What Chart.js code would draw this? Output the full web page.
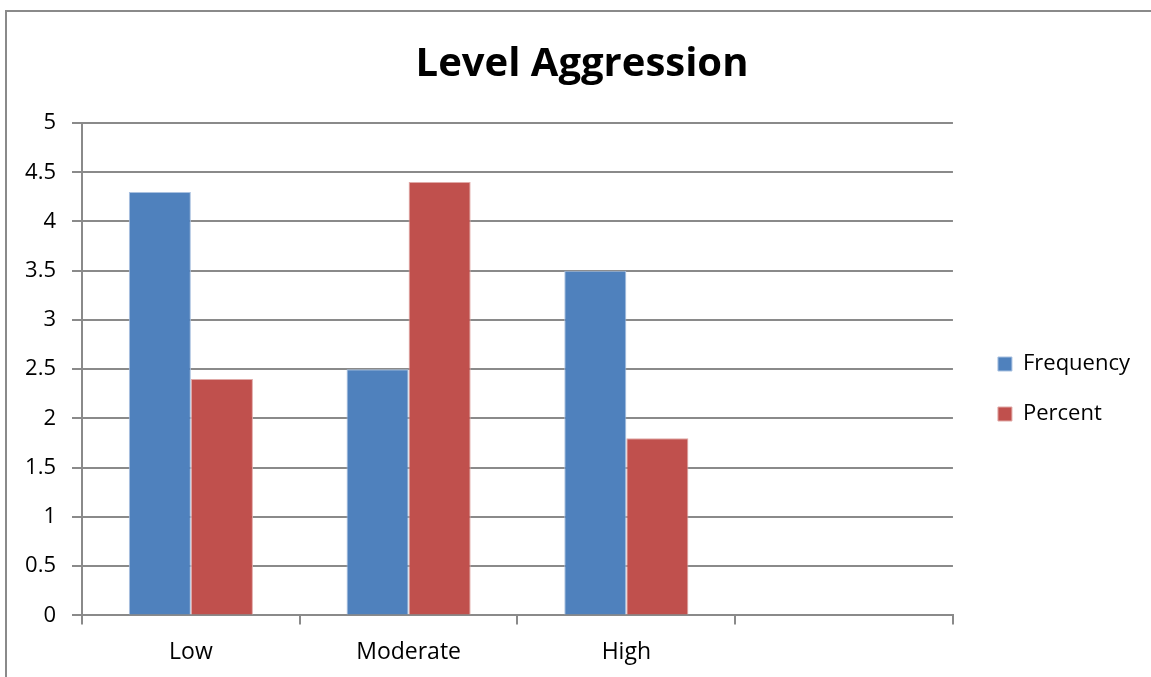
<!DOCTYPE html>
<html>
<head>
<meta charset="utf-8">
<script src="https://cdn.jsdelivr.net/npm/chart.js@4"></script>
<style>
  body { margin: 0; background: #fff; }
  #wrap { position: absolute; left: 0; top: 0; width: 1151px; height: 677px; }
  #frame { position: absolute; left: 5px; top: 10px; width: 1200px; height: 700px;
           border-left: 2px solid #8a8a8a; border-top: 2px solid #8a8a8a; pointer-events: none; }
</style>
</head>
<body>
<div id="wrap"><canvas id="levelChart" width="1151" height="677"></canvas></div>
<div id="frame"></div>
<script>
// chart values
let categories = ["Low", "Moderate", "High", ""];
let frequency = [4.3, 2.5, 3.5, null];
let percent = [2.4, 4.4, 1.8, null];

let fontName = "'Open Sans', sans-serif";
let gridColor = "#8a8a8a";

Chart.defaults.font.family = fontName;
Chart.defaults.color = "#000";

let levelChart = new Chart("levelChart", {
  type: "bar",
  data: {
    labels: categories,
    datasets: [
      {
        label: "Frequency",
        data: frequency,
        backgroundColor: "#4F81BD",
        borderColor: "#a9c1e0",
        borderWidth: 1,
        categoryPercentage: 0.57,
        barPercentage: 1.0
      },
      {
        label: "Percent",
        data: percent,
        backgroundColor: "#C0504D",
        borderColor: "#e0a9a7",
        borderWidth: 1,
        categoryPercentage: 0.57,
        barPercentage: 1.0
      }
    ]
  },
  options: {
    responsive: false,
    animation: false,
    layout: { padding: { left: 24, right: 11, top: 0, bottom: -3 } },
    plugins: {
      title: {
        display: true,
        text: "Level Aggression",
        font: { size: 40, weight: "bold", family: fontName },
        color: "#000",
        padding: { top: 41, bottom: 34 }
      },
      legend: {
        position: "right",
        align: "start",
        // blank title pushes the items down to the middle of the plot
        title: {
          display: true,
          text: " ",
          font: { size: 10 },
          padding: { top: 156, bottom: 157 }
        },
        labels: {
          boxWidth: 14,
          boxHeight: 14,
          padding: 28,
          font: { size: 22, family: fontName },
          color: "#000"
        }
      },
      tooltip: { enabled: false }
    },
    scales: {
      x: {
        grid: {
          offset: true,
          drawOnChartArea: false,
          drawTicks: true,
          tickLength: 9,
          color: gridColor,
          lineWidth: 2
        },
        border: { color: gridColor, width: 2 },
        ticks: { font: { size: 23 }, padding: 14, color: "#000" }
      },
      y: {
        min: 0,
        max: 5,
        ticks: {
          stepSize: 0.5,
          font: { size: 22 },
          padding: 16,
          color: "#000",
          callback: function (value) { return String(Number(value)); }
        },
        grid: { color: gridColor, lineWidth: 2, tickLength: 10 },
        border: { color: gridColor, width: 2 },
        afterFit: function (scale) { scale.width = 58; }
      },
      // empty axis used as a spacer between plot and legend
      spacer: {
        position: "right",
        display: true,
        grid: { display: false, drawTicks: false },
        border: { display: false },
        ticks: { display: false },
        afterFit: function (scale) { scale.width = 17; }
      }
    }
  }
});
</script>
</body>
</html>
